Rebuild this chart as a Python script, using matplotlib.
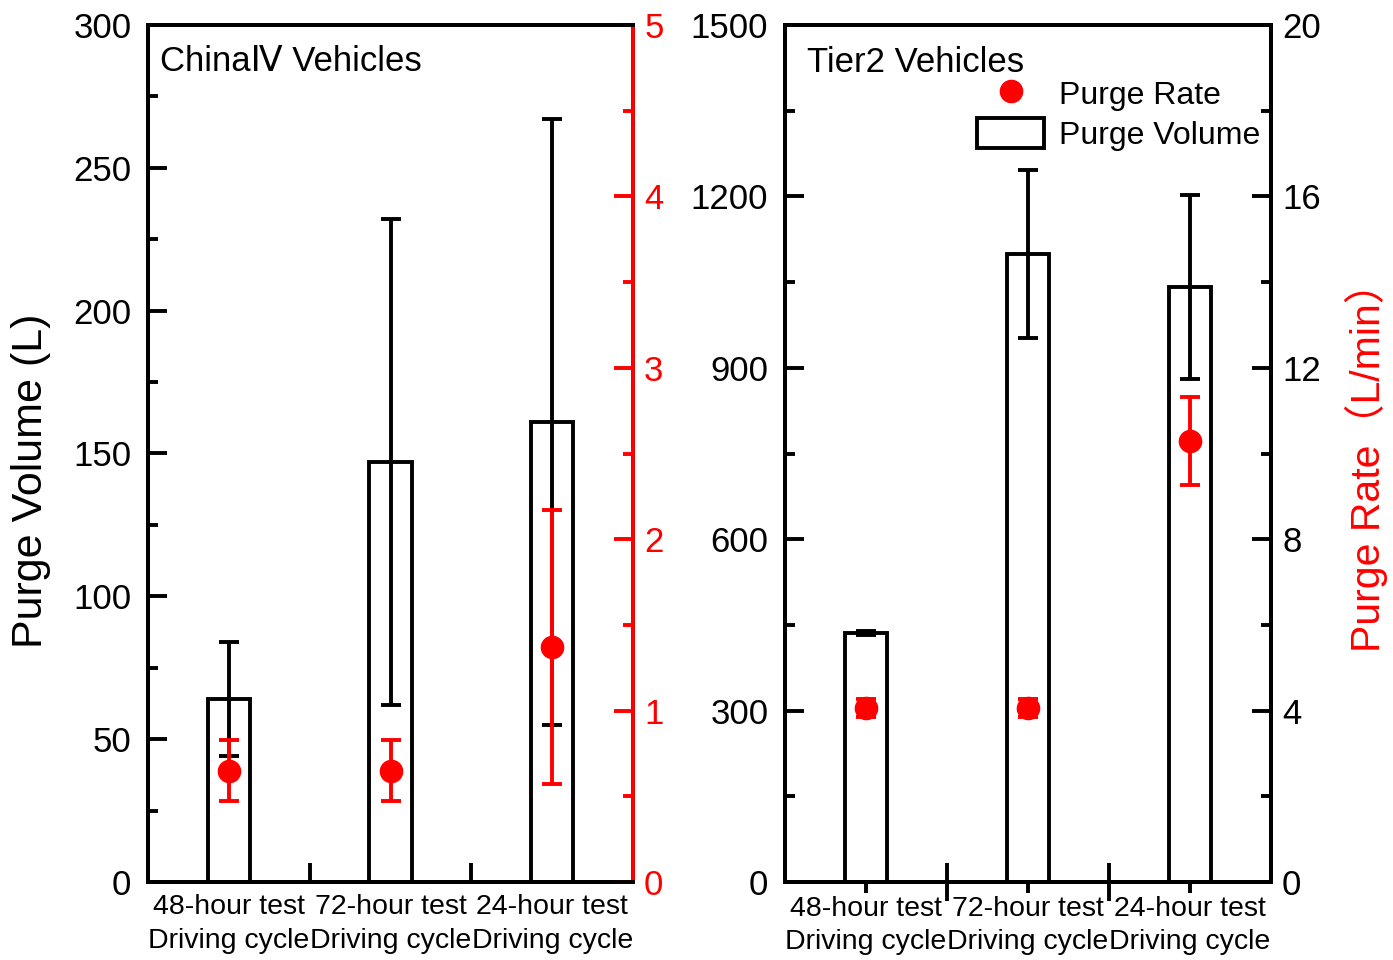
import matplotlib
matplotlib.use('Agg')
import matplotlib.pyplot as plt
from matplotlib.lines import Line2D
from matplotlib.patches import Patch
from matplotlib.ticker import MultipleLocator, FixedLocator

plt.rcParams['font.family'] = ['Liberation Sans', 'DejaVu Sans', 'Noto Sans CJK SC']

# data
categories = ['48-hour test\nDriving cycle', '72-hour test\nDriving cycle', '24-hour test\nDriving cycle']
china_volume = [64, 147, 161]
china_volume_err = [20, 85, 106]
china_rate = [0.65, 0.65, 1.37]
china_rate_err = [0.18, 0.18, 0.8]
tier2_volume = [436, 1099, 1041]
tier2_volume_err = [3, 147, 161]
tier2_rate = [4.06, 4.06, 10.3]
tier2_rate_err = [0.2, 0.2, 1.03]

x = [1, 2, 3]
lw = 2.8

fig = plt.figure(figsize=(13.93, 9.6), dpi=100)
axL = fig.add_axes([148/1393, 1-882/960, 485/1393, 857/960])
axR = fig.add_axes([785/1393, 1-882/960, 486/1393, 857/960])


def draw_panel(ax, vol, vol_err, rate, rate_err, ymax, ystep, rmax, rstep, rcolor):
    ax.bar(x, vol, width=0.26, facecolor='white', edgecolor='black', linewidth=lw, zorder=2)
    ax.errorbar(x, vol, yerr=vol_err, fmt='none', ecolor='black', elinewidth=lw,
                capsize=7, capthick=lw, zorder=3)
    ax.set_xlim(0.5, 3.5)
    ax.set_ylim(0, ymax)
    ax.yaxis.set_major_locator(MultipleLocator(ystep))
    ax.yaxis.set_minor_locator(MultipleLocator(ystep / 2))
    ax.set_xticks(x)
    ax.set_xticklabels(categories, fontsize=20.5, linespacing=1.35)
    ax.xaxis.set_minor_locator(FixedLocator([1.5, 2.5]))
    ax.tick_params(axis='y', which='major', direction='in', length=14, width=lw, labelsize=25, pad=12)
    ax.tick_params(axis='y', which='minor', direction='in', length=7, width=lw)
    for s in ax.spines.values():
        s.set_linewidth(lw)

    tw = ax.twinx()
    tw.errorbar(x, rate, yerr=rate_err, fmt='o', color='red', ecolor='red', markersize=16,
                elinewidth=lw, capsize=7, capthick=lw, zorder=4)
    tw.set_ylim(0, rmax)
    tw.yaxis.set_major_locator(MultipleLocator(rstep))
    tw.yaxis.set_minor_locator(MultipleLocator(rstep / 2))
    tw.tick_params(axis='y', which='major', direction='in', length=14, width=lw, labelsize=25,
                   pad=8, colors=rcolor)
    tw.tick_params(axis='y', which='minor', direction='in', length=7, width=lw, colors=rcolor)
    tw.spines['right'].set_color(rcolor)
    for s in tw.spines.values():
        s.set_linewidth(lw)
    return tw


twL = draw_panel(axL, china_volume, china_volume_err, china_rate, china_rate_err,
                 300, 50, 5, 1, 'red')
axL.tick_params(axis='x', which='major', length=0, pad=9)
axL.tick_params(axis='x', which='minor', direction='in', length=14, width=lw)
axL.set_ylabel('Purge Volume (L)', fontsize=31)
axL.yaxis.set_label_coords(-0.2, 0.468)
axL.text(0.025, 0.977, 'China\u2163 Vehicles', transform=axL.transAxes, fontsize=25,
         ha='left', va='top')

twR = draw_panel(axR, tier2_volume, tier2_volume_err, tier2_rate, tier2_rate_err,
                 1500, 300, 20, 4, 'black')
axR.tick_params(axis='x', which='major', direction='out', length=8, width=lw, pad=2)
axR.tick_params(axis='x', which='minor', direction='inout', length=28, width=lw)
twR.set_ylabel('Purge Rate\uff08L/min\uff09', fontsize=29.5, color='red',
               family=['Liberation Sans', 'Noto Sans CJK SC'])
twR.yaxis.set_label_coords(1.152, 0.496)
axR.text(0.045, 0.975, 'Tier2 Vehicles', transform=axR.transAxes, fontsize=25,
         ha='left', va='top')

handles = [Line2D([], [], marker='o', color='red', linestyle='none', markersize=16),
           Patch(facecolor='white', edgecolor='black', linewidth=lw)]
twR.legend(handles, ['Purge Rate', 'Purge Volume'], loc='upper right', frameon=False,
           fontsize=23, bbox_to_anchor=(1260/1393, 1-78/960), bbox_transform=fig.transFigure,
           borderaxespad=0, borderpad=0, handlelength=2.1, handleheight=1.1,
           handletextpad=0.45, labelspacing=0.2)

fig.savefig('out.png', dpi=100)
